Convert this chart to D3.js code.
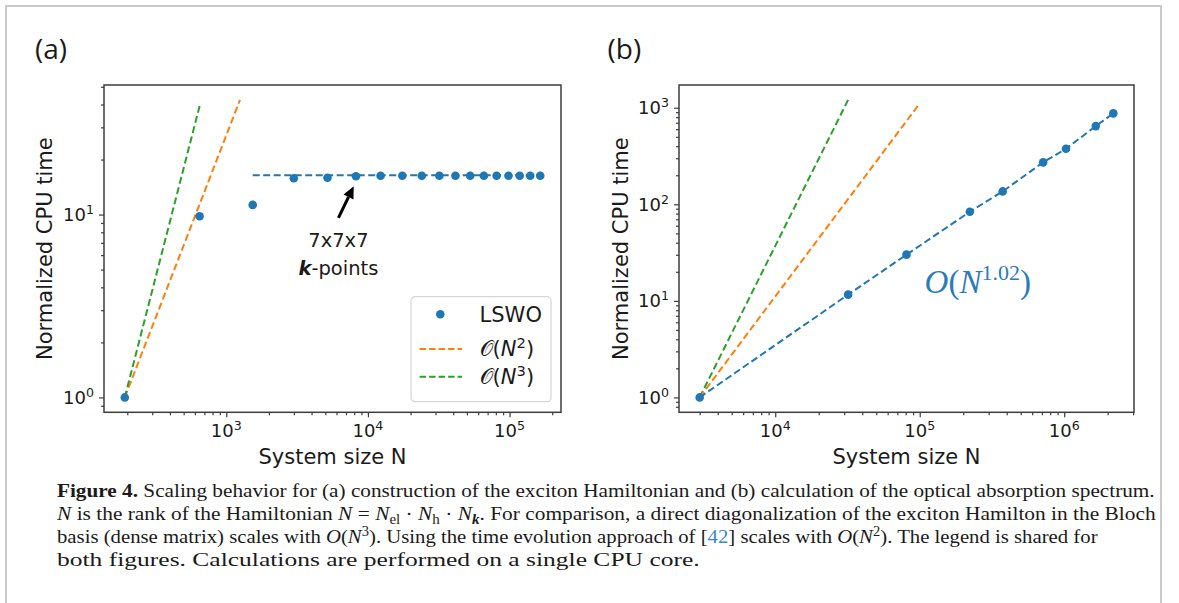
<!DOCTYPE html>
<html>
<head>
<meta charset="utf-8">
<script src="https://cdn.jsdelivr.net/npm/d3@7"></script>
<style>
  html, body { margin: 0; padding: 0; background: #fff; }
  svg { display: block; }
  text { fill: #1a1a1a; }
</style>
</head>
<body>
<script>
// ---- Panel (a): construction of the exciton Hamiltonian ----
const sizeA = [192, 648, 1536, 3000, 5184, 8232, 12288, 17496, 24000, 31944,
               41472, 52728, 65856, 81000, 98304, 117912, 139968, 164616];
const timeA = [1.0, 9.8, 11.3, 15.8, 15.9, 16.2, 16.3, 16.3, 16.3, 16.3,
               16.3, 16.3, 16.3, 16.3, 16.3, 16.3, 16.3, 16.3];
const plateauSizeA = [1536, 164616];
const plateauTimeA = [16.4, 16.4];
const quadSizeA = [192, 1250];
const quadTimeA = [1.0, 42.4];
const cubeSizeA = [192, 655];
const cubeTimeA = [1.0, 40.5];
const arrowTipA = [7940, 14.3];
const arrowTailA = [6190, 9.6];

// ---- Panel (b): optical absorption spectrum ----
const sizeB = [3000, 31944, 81000, 222264, 375000, 714984, 1029000, 1654104, 2187000];
const timeB = [1.0, 11.6, 30.1, 83.7, 136, 272, 376, 646, 875];
const quadSizeB = [3000, 100000];
const quadTimeB = [1.0, 1111];
const cubeSizeB = [3000, 31944];
const cubeTimeB = [1.0, 1207];
const fitLabelB = [108000, 12.0];

const xMajorA = [1e3, 1e4, 1e5];
const yMajorA = [1, 10];
const xMajorB = [1e4, 1e5, 1e6];
const yMajorB = [1, 10, 100, 1000];

const legendLabels = ["LSWO", "2", "3"];
const captionTail = [
  " Scaling behavior for (a) construction of the exciton Hamiltonian and (b) calculation of the optical absorption spectrum.",
  ". For comparison, a direct diagonalization of the exciton Hamilton in the Bloch",
  ". The legend is shared for",
  "both figures. Calculations are performed on a single CPU core."
];

const C_BLUE = "#1f77b4", C_ORANGE = "#ff7f0e", C_GREEN = "#2ca02c";
const CAL_O = "\u{1D4AA}";
const SANS = "'DejaVu Sans', sans-serif";
const SERIF = "'Liberation Serif', serif";

const W = 1179, H = 603;
const svg = d3.select("body").append("svg").attr("width", W).attr("height", H)
  .style("font-family", SANS);
svg.append("rect").attr("width", W).attr("height", H).attr("fill", "#fff");
svg.append("path").attr("d", "M6,603V6H1161V603")
  .attr("fill", "none").attr("stroke", "#cacaca").attr("stroke-width", 2);

function logDomain(vals) {
  const lo = Math.log10(d3.min(vals)), hi = Math.log10(d3.max(vals));
  const p = (hi - lo) * 0.05;
  return [Math.pow(10, lo - p), Math.pow(10, hi + p)];
}
function minorTicks(domain) {
  const out = [];
  const a = Math.floor(Math.log10(domain[0])), b = Math.ceil(Math.log10(domain[1]));
  for (let e = a; e <= b; e++) for (let k = 2; k <= 9; k++) {
    const v = k * Math.pow(10, e);
    if (v >= domain[0] && v <= domain[1]) out.push(v);
  }
  return out;
}
function powLabel(sel, v, size) {
  sel.append("tspan").text("10");
  sel.append("tspan").attr("dy", -7).attr("font-size", size * 0.7)
    .text(String(Math.round(Math.log10(v))));
}

function panel(cfg) {
  const g = svg.append("g");
  const x = d3.scaleLog().domain(logDomain(cfg.allX)).range([cfg.left, cfg.right]);
  const y = d3.scaleLog().domain(logDomain(cfg.allY)).range([cfg.bottom, cfg.top]);

  const tickStyle = s => { s.select(".domain").remove();
    s.selectAll("line").attr("stroke", "#3c3c3c").attr("stroke-width", 1.2); };
  g.append("g").attr("transform", `translate(0,${cfg.bottom})`)
    .call(d3.axisBottom(x).tickValues(cfg.xMajor).tickSize(5).tickFormat("")).call(tickStyle);
  g.append("g").attr("transform", `translate(0,${cfg.bottom})`)
    .call(d3.axisBottom(x).tickValues(minorTicks(x.domain())).tickSize(3).tickFormat("")).call(tickStyle);
  g.append("g").attr("transform", `translate(${cfg.left},0)`)
    .call(d3.axisLeft(y).tickValues(cfg.yMajor).tickSize(5).tickFormat("")).call(tickStyle);
  g.append("g").attr("transform", `translate(${cfg.left},0)`)
    .call(d3.axisLeft(y).tickValues(minorTicks(y.domain())).tickSize(3).tickFormat("")).call(tickStyle);

  cfg.xMajor.forEach(v => {
    const t = g.append("text").attr("x", x(v)).attr("y", cfg.bottom + 24.4)
      .attr("text-anchor", "middle").attr("font-size", 18);
    powLabel(t, v, 18);
  });
  cfg.yMajor.forEach(v => {
    const t = g.append("text").attr("x", cfg.left - 10).attr("y", y(v) + 6.5)
      .attr("text-anchor", "end").attr("font-size", 18);
    powLabel(t, v, 18);
  });

  g.append("text").attr("x", (cfg.left + cfg.right) / 2).attr("y", 464)
    .attr("text-anchor", "middle").attr("font-size", 21).text("System size N");
  g.append("text").attr("transform", `translate(${cfg.yTitleX},${(cfg.top + cfg.bottom) / 2}) rotate(-90)`)
    .attr("text-anchor", "middle").attr("font-size", 21).text("Normalized CPU time");

  g.append("text").attr("x", cfg.tagX).attr("y", 59).style("font-family", "'Open Sans', sans-serif")
    .attr("font-size", 28).text(cfg.tag);

  const line = d3.line().x(d => x(d[0])).y(d => y(d[1]));
  const plot = g.append("g");
  cfg.lines.forEach(l => {
    plot.append("path").attr("d", line(d3.zip(l.xs, l.ys)))
      .attr("fill", "none").attr("stroke", l.color).attr("stroke-width", 2)
      .attr("stroke-dasharray", "7,3.5");
  });
  plot.selectAll("circle.pt").data(d3.zip(cfg.px, cfg.py)).join("circle")
    .attr("class", "pt").attr("cx", d => x(d[0])).attr("cy", d => y(d[1]))
    .attr("r", 4.3).attr("fill", C_BLUE);

  g.append("rect").attr("x", cfg.left).attr("y", cfg.top)
    .attr("width", cfg.right - cfg.left).attr("height", cfg.bottom - cfg.top)
    .attr("fill", "none").attr("stroke", "#3c3c3c").attr("stroke-width", 1.5);
  return { g, x, y };
}

function bigO(sel, exp, size) {
  sel.append("tspan").text(CAL_O);
  sel.append("tspan").text("(");
  sel.append("tspan").attr("font-style", "italic").text("N");
  sel.append("tspan").attr("dy", -size * 0.4).attr("font-size", size * 0.7).text(exp);
  sel.append("tspan").attr("dy", size * 0.4).text(")");
}

// ---- panel (a) ----
const A = panel({
  left: 104, right: 561, top: 85, bottom: 412.3, tag: "(a)", tagX: 35, yTitleX: 51.5,
  allX: sizeA.concat(plateauSizeA, quadSizeA, cubeSizeA),
  allY: timeA.concat(plateauTimeA, quadTimeA, cubeTimeA),
  xMajor: xMajorA, yMajor: yMajorA,
  lines: [
    { xs: plateauSizeA, ys: plateauTimeA, color: C_BLUE },
    { xs: quadSizeA, ys: quadTimeA, color: C_ORANGE },
    { xs: cubeSizeA, ys: cubeTimeA, color: C_GREEN }
  ],
  px: sizeA, py: timeA
});

// arrow pointing at the 7x7x7 k-point run
{
  const tip = [A.x(arrowTipA[0]), A.y(arrowTipA[1])];
  const tail = [A.x(arrowTailA[0]), A.y(arrowTailA[1])];
  const ang = Math.atan2(tip[1] - tail[1], tip[0] - tail[0]);
  const hl = 12, hw = 5.5;
  const base = [tip[0] - hl * Math.cos(ang), tip[1] - hl * Math.sin(ang)];
  A.g.append("line").attr("x1", tail[0]).attr("y1", tail[1]).attr("x2", base[0]).attr("y2", base[1])
    .attr("stroke", "#000").attr("stroke-width", 3);
  const px = -Math.sin(ang), py = Math.cos(ang);
  A.g.append("path").attr("d", `M${tip[0]},${tip[1]}L${base[0] + px * hw},${base[1] + py * hw}L${base[0] - px * hw},${base[1] - py * hw}Z`)
    .attr("fill", "#000");
  A.g.append("text").attr("x", tail[0]).attr("y", tail[1] + 29.5).attr("text-anchor", "middle")
    .attr("font-size", 19.5).text("7x7x7");
  const kp = A.g.append("text").attr("x", tail[0]).attr("y", tail[1] + 57.5).attr("text-anchor", "middle")
    .attr("font-size", 19.5);
  kp.append("tspan").attr("font-weight", "bold").attr("font-style", "italic").text("k");
  kp.append("tspan").text("-points");
}

// legend (shared by both panels)
{
  const bx = A.x.range()[1] - 10 - 140, by = A.y.range()[0] - 10.6 - 105;
  const lg = A.g.append("g").attr("transform", `translate(${bx},${by})`);
  lg.append("rect").attr("width", 140).attr("height", 105).attr("rx", 4)
    .attr("fill", "#fff").attr("fill-opacity", 0.85).attr("stroke", "#d6d6d6").attr("stroke-width", 1.2);
  lg.append("circle").attr("cx", 29.3).attr("cy", 17.6).attr("r", 4.3).attr("fill", C_BLUE);
  lg.append("text").attr("x", 68.6).attr("y", 25.2).attr("font-size", 21).text(legendLabels[0]);
  [[C_ORANGE, 52.3, legendLabels[1]], [C_GREEN, 80, legendLabels[2]]].forEach(([c, cy, e]) => {
    lg.append("line").attr("x1", 8.6).attr("x2", 51).attr("y1", cy).attr("y2", cy)
      .attr("stroke", c).attr("stroke-width", 2).attr("stroke-dasharray", "6.5,3");
    const t = lg.append("text").attr("x", 68.6).attr("y", cy + 7.5).attr("font-size", 21);
    bigO(t, e, 21);
  });
}

// ---- panel (b) ----
const B = panel({
  left: 679, right: 1134, top: 85, bottom: 412.3, tag: "(b)", tagX: 607.5, yTitleX: 627.5,
  allX: sizeB.concat(quadSizeB, cubeSizeB),
  allY: timeB.concat(quadTimeB, cubeTimeB),
  xMajor: xMajorB, yMajor: yMajorB,
  lines: [
    { xs: cubeSizeB, ys: cubeTimeB, color: C_GREEN },
    { xs: quadSizeB, ys: quadTimeB, color: C_ORANGE },
    { xs: sizeB, ys: timeB, color: C_BLUE }
  ],
  px: sizeB, py: timeB
});
{
  const t = B.g.append("text").attr("x", B.x(fitLabelB[0])).attr("y", B.y(fitLabelB[1]))
    .style("font-family", SERIF).attr("font-size", 33).style("fill", "#2c7bb6");
  t.append("tspan").attr("font-style", "italic").text("O");
  t.append("tspan").text("(");
  t.append("tspan").attr("font-style", "italic").text("N");
  t.append("tspan").attr("dy", -13).attr("font-size", 22).text("1.02");
  t.append("tspan").attr("dy", 13).text(")");
}

// ---- caption ----
{
  const x0 = 57, base0 = 497, lh = 23, fs = 19.5;
  const widths = [1099, 1099, 1041, 643];
  const cap = svg.append("g").style("font-family", SERIF).attr("font-size", fs);
  const rows = d3.range(4).map(() => cap.append("text"));

  // writer that keeps sub/superscript offsets balanced
  function writer(row) {
    let pending = 0;
    const put = (s, opt = {}) => {
      const t = row.append("tspan").text(s);
      let dy = pending;
      if (opt.shift) { dy += opt.shift; pending = -opt.shift; } else pending = 0;
      if (dy) t.attr("dy", dy);
      if (opt.small) t.attr("font-size", fs * 0.7);
      if (opt.italic) t.attr("font-style", "italic");
      if (opt.bold) t.attr("font-weight", "bold");
      if (opt.color) t.style("fill", opt.color);
      return t;
    };
    return put;
  }

  const w1 = writer(rows[0]);
  w1("Figure 4.", { bold: true });
  w1(captionTail[0]);

  const w2 = writer(rows[1]);
  w2("N", { italic: true }); w2(" is the rank of the Hamiltonian ");
  w2("N", { italic: true }); w2(" = ");
  w2("N", { italic: true }); w2("el", { small: true, shift: 4 });
  w2(" · "); w2("N", { italic: true }); w2("h", { small: true, shift: 4 });
  w2(" · "); w2("N", { italic: true }); w2("k", { small: true, shift: 4, bold: true, italic: true });
  w2(captionTail[1]);

  const w3 = writer(rows[2]);
  const oN = e => { w3("O", { italic: true }); w3("("); w3("N", { italic: true });
    w3(e, { small: true, shift: -7 }); w3(")"); };
  w3("basis (dense matrix) scales with "); oN("3");
  w3(". Using the time evolution approach of [");
  w3("42", { color: "#3a88c8" });
  w3("] scales with "); oN("2");
  w3(captionTail[2]);

  writer(rows[3])(captionTail[3]);

  rows.forEach((r, i) => {
    const nat = r.node().getComputedTextLength();
    r.attr("transform", `translate(${x0},${base0 + i * lh}) scale(${widths[i] / nat},1)`);
  });
}
</script>
</body>
</html>
